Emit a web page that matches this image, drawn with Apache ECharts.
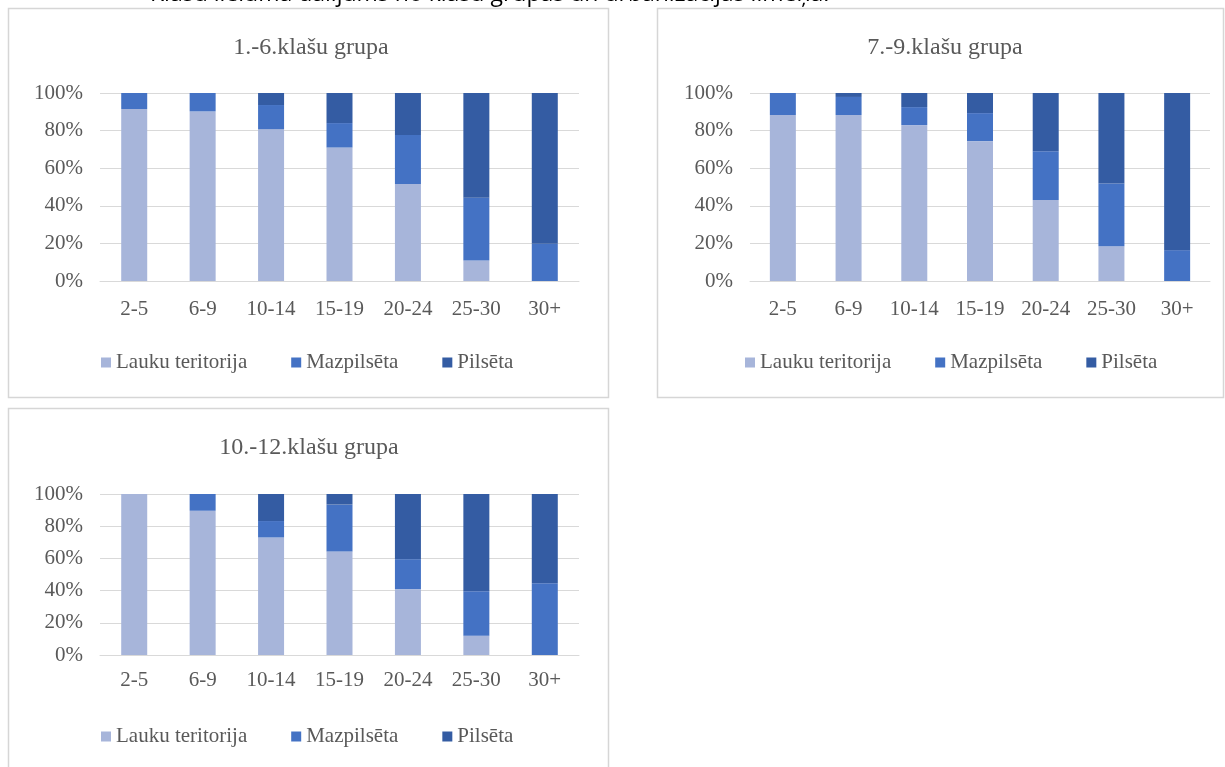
<!DOCTYPE html>
<html>
<head>
<meta charset="utf-8">
<script src="https://cdn.jsdelivr.net/npm/echarts@6/dist/echarts.min.js"></script>
<style>
html,body{margin:0;padding:0;background:#fff;}
#c{width:1225px;height:767px;}
</style>
</head>
<body>
<div id="c"></div>
<script>
const categories = ['2-5', '6-9', '10-14', '15-19', '20-24', '25-30', '30+'];
const seriesNames = ['Lauku teritorija', 'Mazpilsēta', 'Pilsēta'];
const chartTitles = ['1.-6.klašu grupa', '7.-9.klašu grupa', '10.-12.klašu grupa'];
const headingText = 'Klašu lieluma dalījums no klašu grupas un urbanizācijas līmeņa.';

// 1.-6. klašu grupa
const g1Lauku = [91.5, 90.2, 80.8, 71.0, 51.6, 10.9, 0];
const g1Maz   = [8.5, 9.8, 12.8, 13.0, 26.0, 33.4, 19.8];
const g1Pil   = [0, 0, 6.4, 16.0, 22.4, 55.7, 80.2];
// 7.-9. klašu grupa
const g2Lauku = [88.3, 88.3, 82.9, 74.4, 43.1, 18.5, 0];
const g2Maz   = [11.7, 9.6, 9.6, 14.9, 25.9, 33.3, 16.4];
const g2Pil   = [0, 2.1, 7.5, 10.7, 31.0, 48.2, 83.6];
// 10.-12. klašu grupa
const g3Lauku = [100, 89.6, 73.0, 64.3, 40.9, 12.0, 0];
const g3Maz   = [0, 10.4, 10.2, 29.1, 18.6, 27.6, 44.6];
const g3Pil   = [0, 0, 16.8, 6.6, 40.5, 60.4, 55.4];

const groups = [
  [g1Lauku, g1Maz, g1Pil],
  [g2Lauku, g2Maz, g2Pil],
  [g3Lauku, g3Maz, g3Pil]
];

const colors = ['#A7B5DA', '#4472C4', '#345CA3'];
const txt = '#595959';
const serif = '"Liberation Serif", "Times New Roman", serif';

const grids = [
  {left: 100, top: 93, width: 479, height: 188},
  {left: 750, top: 93, width: 460, height: 188},
  {left: 100, top: 494, width: 479, height: 161}
];
const titlePos = [{x: 306, y: 31}, {x: 940, y: 31}, {x: 304, y: 431}];
const legendPos = [{left: 96, top: 347}, {left: 740, top: 347}, {left: 96, top: 721}];
const labelMargins = [18, 18, 15];

const option = {
  animation: false,
  color: colors,
  graphic: [
    {type: 'text', left: 150, top: -17, style: {text: headingText, font: '23px "Open Sans", sans-serif', fill: '#000'}},
    {type: 'rect', shape: {x: 8.5, y: 8.5, width: 600, height: 389}, style: {fill: 'none', stroke: '#D6D6D6', lineWidth: 1.5}},
    {type: 'rect', shape: {x: 657.5, y: 8.5, width: 566, height: 389}, style: {fill: 'none', stroke: '#D6D6D6', lineWidth: 1.5}},
    {type: 'rect', shape: {x: 8.5, y: 408.5, width: 600, height: 400}, style: {fill: 'none', stroke: '#D6D6D6', lineWidth: 1.5}}
  ],
  title: chartTitles.map((t, i) => ({
    text: t,
    left: titlePos[i].x,
    top: titlePos[i].y,
    textAlign: 'center',
    textStyle: {fontFamily: serif, fontSize: 24, fontWeight: 'normal', color: txt}
  })),
  legend: legendPos.map(p => ({
    data: seriesNames,
    left: p.left,
    top: p.top,
    orient: 'horizontal',
    icon: 'rect',
    itemWidth: 10,
    itemHeight: 10,
    itemGap: 44,
    textStyle: {fontFamily: serif, fontSize: 21, color: txt}
  })),
  grid: grids,
  xAxis: grids.map((g, i) => ({
    type: 'category',
    gridIndex: i,
    data: categories,
    axisTick: {show: false},
    axisLine: {show: true, lineStyle: {color: '#D9D9D9', width: 1}},
    axisLabel: {fontFamily: serif, fontSize: 21, color: txt, margin: labelMargins[i], interval: 0}
  })),
  yAxis: grids.map((g, i) => ({
    type: 'value',
    gridIndex: i,
    min: 0,
    max: 100,
    interval: 20,
    axisLine: {show: false},
    axisTick: {show: false},
    splitLine: {lineStyle: {color: '#D9D9D9', width: 1}},
    axisLabel: {fontFamily: serif, fontSize: 21, color: txt, margin: 17, formatter: '{value}%'}
  })),
  series: []
};

groups.forEach((grp, gi) => {
  grp.forEach((vals, si) => {
    option.series.push({
      type: 'bar',
      name: seriesNames[si],
      xAxisIndex: gi,
      yAxisIndex: gi,
      stack: 'g' + gi,
      barWidth: 26,
      itemStyle: {color: colors[si]},
      data: vals
    });
  });
});

const chart = echarts.init(document.getElementById('c'), null, {renderer: 'canvas'});
chart.setOption(option);
</script>
</body>
</html>
